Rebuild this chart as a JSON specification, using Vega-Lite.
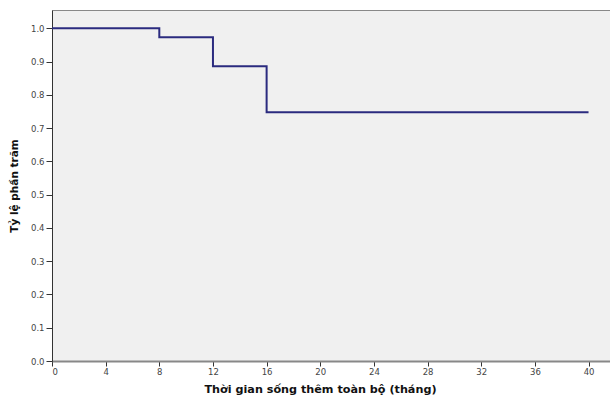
{
  "$schema": "https://vega.github.io/schema/vega-lite/v6.json",
  "width": 558,
  "height": 351,
  "autosize": {"type": "none"},
  "padding": {"left": 52, "top": 10, "right": 0, "bottom": 38},
  "background": "white",
  "config": {
    "view": {"fill": "#f0f0f0", "stroke": "#888888", "strokeWidth": 1},
    "font": "DejaVu Sans"
  },
  "data": {
    "values": [
      {"t": 0, "s": 1.0},
      {"t": 8, "s": 0.973},
      {"t": 12, "s": 0.886},
      {"t": 16, "s": 0.748},
      {"t": 40, "s": 0.748}
    ]
  },
  "mark": {"type": "line", "interpolate": "step-after", "color": "#2b2b7f", "strokeWidth": 2},
  "encoding": {
    "x": {
      "field": "t", "type": "quantitative",
      "scale": {"domain": [0, 41.6], "nice": false, "zero": false},
      "axis": {
        "values": [0, 4, 8, 12, 16, 20, 24, 28, 32, 36, 40],
        "title": "Thời gian sống thêm toàn bộ (tháng)",
        "titleFont": "DejaVu Sans", "titleFontSize": 11.2, "titleFontWeight": "bold", "titleColor": "#111111",
        "titlePadding": 8,
        "titleX": 268,
        "labelFontSize": 8.5, "labelColor": "#444444", "labelPadding": 1,
        "tickSize": 5, "tickColor": "#333333",
        "domainColor": "#888888", "domainWidth": 2,
        "grid": false
      }
    },
    "y": {
      "field": "s", "type": "quantitative",
      "scale": {"domain": [0, 1.055], "nice": false},
      "axis": {
        "values": [0, 0.1, 0.2, 0.3, 0.4, 0.5, 0.6, 0.7, 0.8, 0.9, 1.0],
        "format": ".1f",
        "title": "Tỷ lệ phần trăm",
        "titleFont": "DejaVu Sans", "titleFontSize": 10.5, "titleFontWeight": "bold", "titleColor": "#111111",
        "titlePadding": 11,
        "labelFontSize": 8.5, "labelColor": "#444444", "labelPadding": 2,
        "tickSize": 6, "tickColor": "#333333",
        "domainColor": "#333333", "domainWidth": 1,
        "grid": false
      }
    }
  }
}
